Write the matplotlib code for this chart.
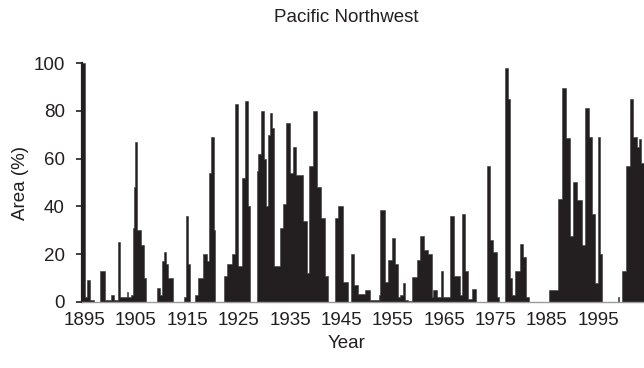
import matplotlib
matplotlib.use("Agg")
import matplotlib.pyplot as plt

plt.rcParams["font.family"] = ["Liberation Sans", "DejaVu Sans"]

# Drought-affected area, Pacific Northwest: each value holds from its start year
# until the next entry (step series).
start_years = [
    1895.00, 1895.55, 1895.95, 1896.60, 1897.40, 1898.60, 1899.50, 1900.70, 1901.30, 1901.95,
    1902.30, 1903.70, 1904.00, 1904.60, 1904.85, 1905.10, 1905.35, 1905.75, 1906.40, 1907.00,
    1907.50, 1909.60, 1910.20, 1910.50, 1910.95, 1911.30, 1911.80, 1912.80, 1914.90, 1915.25,
    1915.65, 1916.10, 1916.90, 1917.60, 1918.50, 1919.40, 1919.75, 1920.20, 1920.65, 1920.90,
    1922.70, 1923.30, 1924.20, 1924.75, 1925.30, 1926.10, 1926.65, 1927.30, 1927.80, 1929.00,
    1929.30, 1929.90, 1930.45, 1930.75, 1931.30, 1931.60, 1932.00, 1932.40, 1933.60, 1934.20,
    1934.70, 1935.40, 1936.00, 1936.60, 1938.00, 1938.75, 1939.25, 1939.95, 1940.65, 1941.60,
    1942.30, 1942.90, 1944.30, 1944.90, 1945.90, 1946.70, 1947.30, 1948.00, 1948.80, 1950.10,
    1951.10, 1952.80, 1953.10, 1953.95, 1954.65, 1955.30, 1955.95, 1956.60, 1956.90, 1957.50,
    1957.90, 1958.40, 1959.20, 1960.20, 1960.80, 1961.50, 1962.40, 1963.10, 1963.40, 1964.10,
    1964.80, 1965.20, 1966.65, 1967.40, 1968.60, 1968.90, 1969.60, 1970.20, 1970.90, 1971.60,
    1973.80, 1974.40, 1975.10, 1975.80, 1976.10, 1977.30, 1977.95, 1978.40, 1978.80, 1979.30,
    1980.30, 1980.90, 1981.50, 1982.00, 1986.00, 1987.70, 1988.40, 1989.20, 1990.00, 1990.60,
    1991.30, 1992.30, 1992.90, 1993.60, 1994.20, 1994.90, 1995.40, 1995.90, 1996.30, 1999.30,
    1999.60, 2000.20, 2000.85, 2001.75, 2002.25, 2003.00, 2003.50, 2003.90, 2004.40,
]
area_pct = [
    100, 2, 9, 1, 0, 13, 1, 3, 1, 25,
    2, 4, 2, 3, 31, 48, 67, 30, 24, 10,
    0, 6, 3, 17, 21, 16, 10, 0, 2, 36,
    16, 0, 3, 10, 20, 17, 54, 69, 30, 0,
    11, 16, 20, 83, 15, 52, 84, 40, 0, 55,
    62, 80, 60, 40, 70, 79, 73, 15, 31, 41,
    75, 54, 65, 53, 34, 12, 57, 80, 48, 35,
    11, 0, 35, 40, 8.5, 0, 20, 7, 3.5, 5,
    1, 3, 38.5, 8.5, 17.6, 26.6, 16, 2, 3, 7.8,
    1, 0.5, 10.5, 17.6, 27.5, 21.7, 20, 2, 5, 2,
    13, 2, 36, 11, 3, 37, 13, 1.3, 5.6, 0,
    57, 26, 21, 2, 0, 98, 85, 10, 3, 13,
    24.3, 19, 2, 0, 5, 43, 89.5, 68.5, 27.5, 50.4,
    42.7, 24, 81, 69, 37, 8, 69, 20, 0, 2,
    0, 13, 57, 85, 69, 65, 68, 58, 58,
]

decade_labels = ["1895", "1905", "1915", "1925", "1935", "1945",
                 "1955", "1965", "1975", "1985", "1995"]
y_ticks = [0, 20, 40, 60, 80, 100]

W, H = 644, 368
fig = plt.figure(figsize=(W / 100, H / 100), dpi=100)
ax = fig.add_axes([82 / W, (H - 302) / H, (W - 82) / W, (302 - 63) / H])

ax.fill_between(start_years, area_pct, 0, step="post",
                color="#231f20", linewidth=0.4, edgecolor="#3a3637")

ax.set_xlim(1895, 2004.4)
ax.set_ylim(0, 100)

ax.set_yticks(y_ticks)
ax.set_xticks([int(s) + 0.5 for s in decade_labels])
ax.set_xticklabels(decade_labels)

ax.tick_params(axis="y", direction="out", length=4.5, width=1.2,
               colors="#231f20", labelsize=13.5, pad=8)
ax.tick_params(axis="x", length=0, labelsize=13.5, pad=7.5, labelcolor="#231f20")

for side in ("top", "right"):
    ax.spines[side].set_visible(False)
ax.spines["left"].set_linewidth(1.6)
ax.spines["left"].set_color("#231f20")
ax.spines["bottom"].set_linewidth(1.0)
ax.spines["bottom"].set_color("#9a9a9a")

ax.set_xlabel("Year", fontsize=13.5, color="#231f20")
ax.xaxis.set_label_coords(0.47, -0.172)
ax.xaxis.label.set_va("center")

ax.set_ylabel("Area (%)", fontsize=13.5, color="#231f20")
ax.yaxis.set_label_coords(-0.11, 0.5)
ax.yaxis.label.set_va("center")

ax.set_title("Pacific Northwest", fontsize=13.5, color="#231f20",
             x=0.47, y=(302 - 17) / (302 - 63), va="center", pad=0)

fig.savefig("out.png", dpi=100)
